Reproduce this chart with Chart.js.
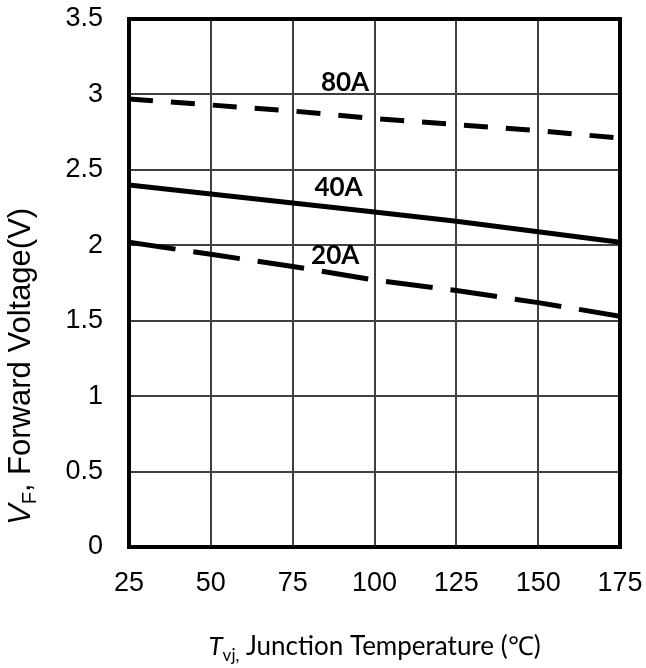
<!DOCTYPE html>
<html>
<head>
<meta charset="utf-8">
<script src="https://cdn.jsdelivr.net/npm/chart.js@4/dist/chart.umd.min.js"></script>
<style>
  html, body { margin: 0; padding: 0; background: #fff; }
  #wrap { width: 646px; height: 668px; }
</style>
</head>
<body>
<div id="wrap"><canvas id="vfChart" width="646" height="668"></canvas></div>
<script>
// Junction temperature (deg C) and forward voltage (V) for each current
const temps = [25, 50, 75, 100, 125, 150, 175];
const vf80 = [2.97, 2.93, 2.89, 2.84, 2.80, 2.76, 2.71];
const vf40 = [2.40, 2.34, 2.28, 2.22, 2.16, 2.09, 2.02];
const vf20 = [2.02, 1.94, 1.86, 1.77, 1.70, 1.62, 1.53];
const xTicks = [25, 50, 75, 100, 125, 150, 175];
const yTicks = [0, 0.5, 1, 1.5, 2, 2.5, 3, 3.5];

// curve labels, placed in data units
const curveLabels = ['80A', '40A', '20A'];
const labelX = [91, 89, 88];
const labelY = [3.08, 2.38, 1.93];

function toPoints(ys) {
    return temps.map((t, i) => ({ x: t, y: ys[i] }));
}

const frameAndText = {
    id: 'frameAndText',
    beforeDatasetsDraw(chart) {
        const ctx = chart.ctx;
        const a = chart.chartArea;
        ctx.save();
        ctx.strokeStyle = '#000';
        ctx.lineWidth = 4;
        ctx.strokeRect(a.left, a.top, a.right - a.left, a.bottom - a.top);
        ctx.restore();
    },
    afterDraw(chart) {
        const ctx = chart.ctx;
        const xs = chart.scales.x, ys = chart.scales.y;
        ctx.save();
        ctx.fillStyle = '#000';

        // curve labels
        ctx.font = 'bold 26px Lato, sans-serif';
        ctx.textAlign = 'center';
        ctx.textBaseline = 'middle';
        curveLabels.forEach((t, i) => {
            ctx.fillText(t, xs.getPixelForValue(labelX[i]), ys.getPixelForValue(labelY[i]));
        });

        // x title: T_vj, Junction Temperature (℃)
        const parts = [
            { t: 'T', f: 'italic 26px Lato, sans-serif', dy: 0 },
            { t: 'vj,', f: '17px Lato, sans-serif', dy: 6 },
            { t: ' Junction Temperature (\u2103)', f: '26px Lato, sans-serif', dy: 0 }
        ];
        let total = 0;
        parts.forEach(p => { ctx.font = p.f; p.w = ctx.measureText(p.t).width; total += p.w; });
        let x = (chart.chartArea.left + chart.chartArea.right) / 2 - total / 2;
        ctx.textAlign = 'left';
        ctx.textBaseline = 'alphabetic';
        parts.forEach(p => {
            ctx.font = p.f;
            ctx.fillText(p.t, x, 655 + p.dy);
            x += p.w;
        });

        // y title: V_F, Forward Voltage(V)
        const yparts = [
            { t: 'V', f: 'italic 31px "Liberation Sans", Arial, sans-serif', dy: 0 },
            { t: 'F', f: '20px "Liberation Sans", Arial, sans-serif', dy: 6 },
            { t: ', Forward Voltage(V)', f: '31px "Liberation Sans", Arial, sans-serif', dy: 0 }
        ];
        ctx.translate(30, 525);
        ctx.rotate(-Math.PI / 2);
        let yx = 0;
        yparts.forEach(p => {
            ctx.font = p.f;
            ctx.fillText(p.t, yx, p.dy);
            yx += ctx.measureText(p.t).width;
        });
        ctx.restore();
    }
};

const lineStyle = {
    borderColor: '#000',
    borderWidth: 5,
    pointRadius: 0,
    fill: false,
    tension: 0
};

new Chart(document.getElementById('vfChart'), {
    type: 'line',
    data: {
        datasets: [
            Object.assign({ label: '80A', data: toPoints(vf80), borderDash: [24, 18] }, lineStyle),
            Object.assign({ label: '40A', data: toPoints(vf40) }, lineStyle),
            Object.assign({ label: '20A', data: toPoints(vf20), borderDash: [47, 18] }, lineStyle)
        ]
    },
    options: {
        responsive: false,
        animation: false,
        layout: { padding: { top: 19, right: 26, left: 0, bottom: 0 } },
        plugins: { legend: { display: false }, tooltip: { enabled: false } },
        scales: {
            x: {
                type: 'linear',
                min: 25,
                max: 175,
                afterBuildTicks(s) { s.ticks = xTicks.map(v => ({ value: v })); },
                afterFit(s) { s.height = 121; s.paddingLeft = 0; s.paddingRight = 0; },
                grid: { color: '#404040', lineWidth: 2, drawTicks: false },
                border: { display: false },
                ticks: {
                    color: '#000',
                    padding: 20,
                    maxRotation: 0,
                    callback: v => String(v),
                    font: { family: '"Liberation Sans", Arial, sans-serif', size: 27 }
                }
            },
            y: {
                min: 0,
                max: 3.5,
                afterBuildTicks(s) { s.ticks = yTicks.map(v => ({ value: v })); },
                afterFit(s) { s.width = 129; s.paddingTop = 0; s.paddingBottom = 0; },
                grid: { color: '#404040', lineWidth: 2, drawTicks: false },
                border: { display: false },
                ticks: {
                    color: '#000',
                    padding: 26,
                    callback: v => String(v),
                    font: { family: '"Liberation Sans", Arial, sans-serif', size: 27 }
                }
            }
        }
    },
    plugins: [frameAndText]
});
</script>
</body>
</html>
